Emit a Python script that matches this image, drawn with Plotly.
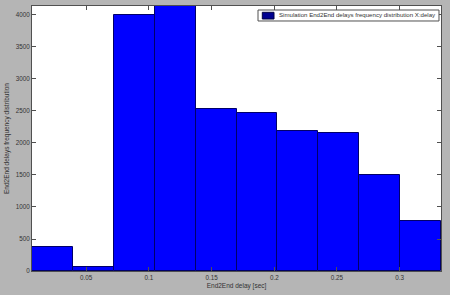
import plotly.graph_objects as go

bin_centers = [0.0231, 0.0557, 0.0884, 0.1210, 0.1536, 0.1862, 0.2188, 0.2515, 0.2841, 0.3167]
counts = [375, 65, 4000, 4140, 2531, 2464, 2192, 2161, 1495, 777]
bin_width = 0.03262
x_ticks = [0.05, 0.1, 0.15, 0.2, 0.25, 0.3]
x_tick_labels = ["0.05", "0.1", "0.15", "0.2", "0.25", "0.3"]
y_ticks = [0, 500, 1000, 1500, 2000, 2500, 3000, 3500, 4000]
series_name = "Simulation End2End delays frequency distribution X:delay"

fig = go.Figure()
fig.add_trace(go.Bar(
    x=bin_centers, y=counts, width=[bin_width] * len(counts),
    marker=dict(color="#0000ff", line=dict(color="#00006a", width=1)),
    showlegend=False, name=series_name,
))

axis_common = dict(
    showgrid=False, zeroline=False, showline=True, linecolor="#505050", linewidth=1,
    mirror="ticks", ticks="inside", ticklen=4, tickcolor="#505050",
    tickfont=dict(size=6.3, color="#333333"),
)
fig.update_layout(
    width=450, height=295,
    margin=dict(l=32, r=9, t=6, b=24),
    paper_bgcolor="#b5b5b5", plot_bgcolor="#ffffff",
    font=dict(family="Liberation Sans, Arial, sans-serif", size=7, color="#333333"),
    bargap=0,
    showlegend=False,
    xaxis=dict(range=[0.00677, 0.333], tickvals=x_ticks, ticktext=x_tick_labels,
               title=dict(text="End2End delay [sec]", font=dict(size=6.5, color="#333333"), standoff=3),
               **axis_common),
    yaxis=dict(range=[0, 4140], tickvals=y_ticks,
               title=dict(text="End2End delays frequency distribution", font=dict(size=6.5, color="#333333"), standoff=5),
               **axis_common),
)

# legend drawn manually for exact size
fig.add_shape(type="rect", xref="paper", yref="paper", x0=0.5526, x1=0.9951, y0=0.9434, y1=0.9849,
              fillcolor="#ffffff", line=dict(color="#505050", width=1), layer="above")
fig.add_shape(type="rect", xref="paper", yref="paper", x0=0.5631, x1=0.5917, y0=0.9509, y1=0.9762,
              fillcolor="#000090", line=dict(color="#000040", width=1), layer="above")
fig.add_annotation(text=series_name, xref="paper", yref="paper", x=0.5998, y=0.968,
                   xanchor="left", yanchor="middle", showarrow=False,
                   font=dict(size=6.1, color="#333333"))

fig.write_html("out.html")
